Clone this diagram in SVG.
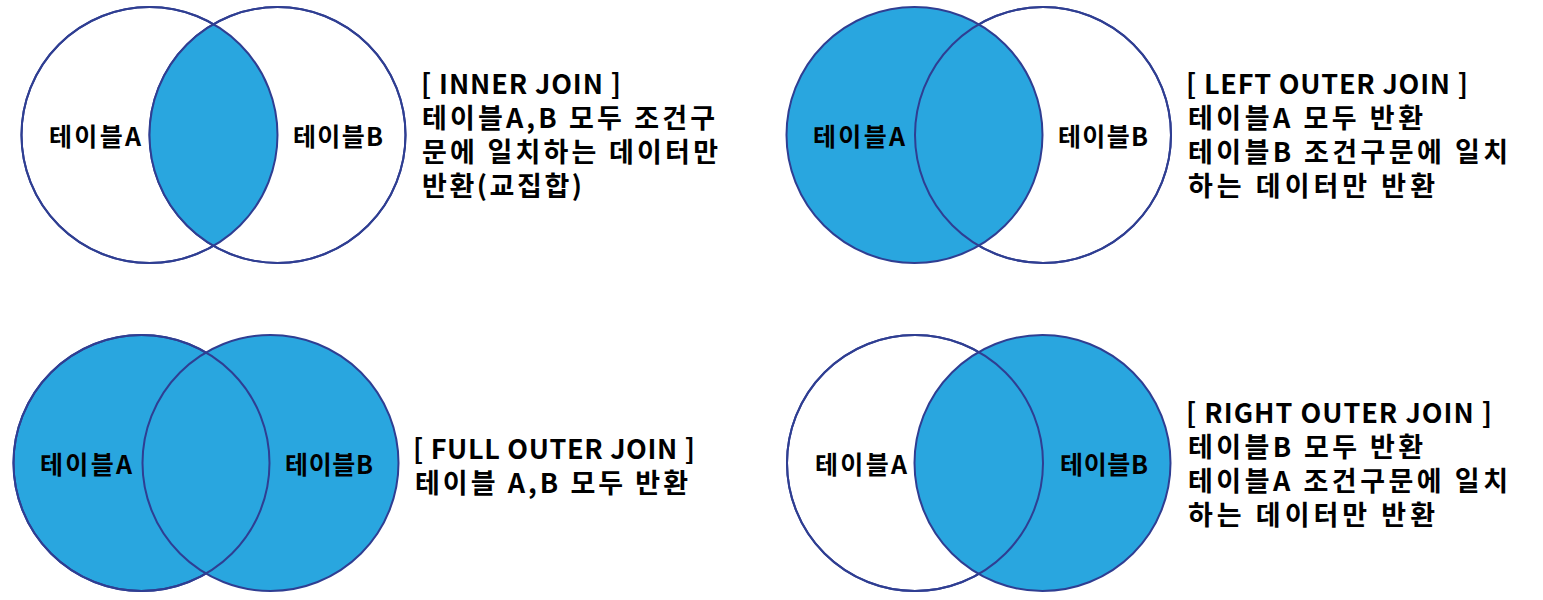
<svg xmlns="http://www.w3.org/2000/svg" width="1543" height="600" viewBox="0 0 1543 600">
<defs>
<style>
.c{stroke:#2F3E92;stroke-width:2}
.e{fill:#FFFFFF}
.f{fill:#29A6DF}
.lbl{font-family:"Noto Sans CJK KR","Noto Sans",sans-serif;font-weight:bold;font-size:25px;fill:#000}
.t{font-family:"Noto Sans CJK KR","Noto Sans",sans-serif;font-weight:bold;font-size:27px;fill:#000}
</style>
</defs>
<rect width="1543" height="600" fill="#FFFFFF"/>

<!-- INNER JOIN -->
<g id="inner-join">
  <circle class="c e" cx="149.5" cy="135" r="128"/>
  <circle class="c e" cx="277.5" cy="135" r="128"/>
  <path class="f" d="M213.5,24.2 A128,128 0 0 1 213.5,245.8 A128,128 0 0 1 213.5,24.2 Z"/>
  <circle class="c" cx="149.5" cy="135" r="128" fill="none"/>
  <circle class="c" cx="277.5" cy="135" r="128" fill="none"/>
  <text class="lbl" x="49" y="146" textLength="92">테이블A</text>
  <text class="lbl" x="293" y="146" textLength="90">테이블B</text>
  <text class="t" x="421" y="94" textLength="200">[ INNER JOIN ]</text>
  <text class="t" x="422" y="128" textLength="293">테이블A,B 모두 조건구</text>
  <text class="t" x="422" y="162" textLength="296">문에 일치하는 데이터만</text>
  <text class="t" x="422" y="196" textLength="160">반환(교집합)</text>
</g>

<!-- LEFT OUTER JOIN -->
<g id="left-outer-join">
  <circle class="c e" cx="1043" cy="135" r="128"/>
  <circle class="c f" cx="914.5" cy="135" r="128"/>
  <circle class="c" cx="1043" cy="135" r="128" fill="none"/>
  <text class="lbl" x="813" y="146" textLength="92">테이블A</text>
  <text class="lbl" x="1058" y="146" textLength="90">테이블B</text>
  <text class="t" x="1186" y="94" textLength="282">[ LEFT OUTER JOIN ]</text>
  <text class="t" x="1188" y="128" textLength="235">테이블A 모두 반환</text>
  <text class="t" x="1188" y="162" textLength="320">테이블B 조건구문에 일치</text>
  <text class="t" x="1188" y="196" textLength="247">하는 데이터만 반환</text>
</g>

<!-- FULL OUTER JOIN -->
<g id="full-outer-join">
  <circle class="c f" cx="141.5" cy="463" r="128"/>
  <circle class="c f" cx="270.5" cy="463" r="128"/>
  <circle class="c" cx="141.5" cy="463" r="128" fill="none"/>
  <text class="lbl" x="40" y="474" textLength="92">테이블A</text>
  <text class="lbl" x="285" y="474" textLength="88">테이블B</text>
  <text class="t" x="413" y="459" textLength="282">[ FULL OUTER JOIN ]</text>
  <text class="t" x="415" y="493" textLength="273">테이블 A,B 모두 반환</text>
</g>

<!-- RIGHT OUTER JOIN -->
<g id="right-outer-join">
  <circle class="c e" cx="915" cy="463" r="128"/>
  <circle class="c f" cx="1042.5" cy="463" r="128"/>
  <circle class="c" cx="915" cy="463" r="128" fill="none"/>
  <text class="lbl" x="815" y="474" textLength="92">테이블A</text>
  <text class="lbl" x="1060" y="474" textLength="88">테이블B</text>
  <text class="t" x="1186" y="423" textLength="306">[ RIGHT OUTER JOIN ]</text>
  <text class="t" x="1188" y="457" textLength="235">테이블B 모두 반환</text>
  <text class="t" x="1188" y="491" textLength="320">테이블A 조건구문에 일치</text>
  <text class="t" x="1188" y="525" textLength="247">하는 데이터만 반환</text>
</g>

<g id="connectors"></g>
</svg>
